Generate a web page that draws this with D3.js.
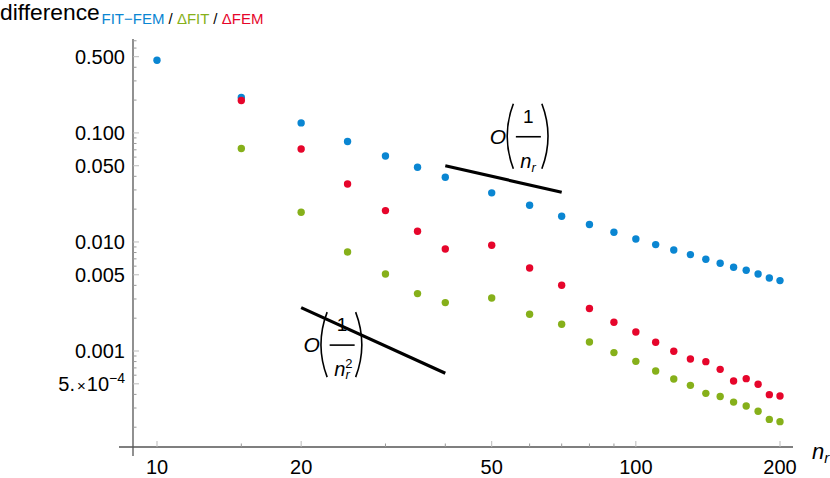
<!DOCTYPE html>
<html>
<head>
  <meta http-equiv="Content-Type" content="text/html;charset=utf-8">
  <title>difference vs n_r</title>
  <script src="https://d3js.org/d3.v7.min.js"></script>
  <style>
    html, body { margin: 0; padding: 0; background: #fff; }
    svg { display: block; font-family: "Liberation Sans", Arial, sans-serif; }
  </style>
</head>
<body>
<script type="text/javascript">

  // data
  var nFit = [10, 15, 20, 25, 30, 35, 40, 50, 60, 70, 80, 90, 100, 110, 120, 130, 140, 150, 160, 170, 180, 190, 200];
  var fitMinusFem = [0.4645, 0.2113, 0.1235, 0.0834, 0.0615, 0.0484, 0.0392, 0.0282, 0.0217, 0.0172, 0.01444, 0.01227,
    0.01065, 0.00946, 0.00844, 0.00766, 0.00694, 0.00638, 0.00586, 0.00550, 0.00509, 0.00467, 0.00442];

  var nDelta = [15, 20, 25, 30, 35, 40, 50, 60, 70, 80, 90, 100, 110, 120, 130, 140, 150, 160, 170, 180, 190, 200];
  var deltaFit = [0.0719, 0.01873, 0.00810, 0.00509, 0.00336, 0.00278, 0.00306, 0.00217, 0.001758, 0.001210, 0.000967,
    0.000804, 0.000655, 0.000553, 0.000484, 0.000409, 0.000382, 0.000340, 0.000313, 0.000280, 0.000236, 0.000225];
  var deltaFem = [0.1982, 0.0713, 0.0340, 0.0194, 0.01253, 0.00862, 0.00932, 0.00577, 0.00401, 0.00245, 0.001834,
    0.001494, 0.001202, 0.000994, 0.000844, 0.000799, 0.000679, 0.000531, 0.000558, 0.000495, 0.000398, 0.000387];

  // guide lines O(1/n) and O(1/n^2)
  var guide1 = [[40, 0.05], [70, 0.05 * 40 / 70]];
  var guide2 = [[20, 0.0025], [40, 0.0025 / 4]];

  var xMajor = [10, 20, 50, 100, 200];
  var xMinor = [15, 30, 40, 60, 70, 80, 90];
  var yMajor = [0.5, 0.1, 0.05, 0.01, 0.005, 0.001, 0.0005];
  var yLabels = ["0.500", "0.100", "0.050", "0.010", "0.005", "0.001", "5.×10-4"];
  var yMinor = [0.7, 0.6, 0.4, 0.3, 0.2, 0.09, 0.08, 0.07, 0.06, 0.04, 0.03, 0.02,
    0.009, 0.008, 0.007, 0.006, 0.004, 0.003, 0.002,
    0.0009, 0.0008, 0.0007, 0.0006, 0.0004, 0.0003, 0.0002];

  var blue = "#0a86d2", green = "#86b01a", red = "#e6052b";

  var svg = d3.select("body").append("svg")
    .attr("width", 830)
    .attr("height", 478);

  var x = d3.scaleLog().domain([10, 200]).range([157, 780]);
  var y = d3.scaleLog().domain([0.001, 0.5]).range([351, 56.7]);

  var axisY = 447, axisX = 133;

  // axes lines
  svg.append("line")
    .attr("x1", 119).attr("x2", 793).attr("y1", axisY).attr("y2", axisY)
    .style("stroke", "#555").style("stroke-width", 1.3);
  svg.append("line")
    .attr("x1", axisX).attr("x2", axisX).attr("y1", 39).attr("y2", 456)
    .style("stroke", "#555").style("stroke-width", 1.3);

  // x ticks (inward)
  svg.selectAll(".xmaj").data(xMajor).enter().append("line")
    .attr("x1", function (d) { return x(d); }).attr("x2", function (d) { return x(d); })
    .attr("y1", axisY).attr("y2", axisY - 6)
    .style("stroke", "#bbb").style("stroke-width", 1);
  svg.selectAll(".xmin").data(xMinor).enter().append("line")
    .attr("x1", function (d) { return x(d); }).attr("x2", function (d) { return x(d); })
    .attr("y1", axisY).attr("y2", axisY - 3.5)
    .style("stroke", "#999").style("stroke-width", 1);
  svg.selectAll(".xlab").data(xMajor).enter().append("text")
    .attr("x", function (d) { return x(d); })
    .attr("y", 474)
    .attr("text-anchor", "middle")
    .style("font-size", "20px")
    .text(function (d) { return d; });

  // y ticks (inward)
  svg.selectAll(".ymaj").data(yMajor).enter().append("line")
    .attr("x1", axisX).attr("x2", axisX + 6)
    .attr("y1", function (d) { return y(d); }).attr("y2", function (d) { return y(d); })
    .style("stroke", "#bbb").style("stroke-width", 1);
  svg.selectAll(".ymin").data(yMinor).enter().append("line")
    .attr("x1", axisX).attr("x2", axisX + 3.5)
    .attr("y1", function (d) { return y(d); }).attr("y2", function (d) { return y(d); })
    .style("stroke", "#999").style("stroke-width", 1);

  yMajor.forEach(function (v, i) {
    var lab = yLabels[i];
    var t = svg.append("text")
      .attr("x", 125)
      .attr("y", y(v) + 7.2)
      .attr("text-anchor", "end")
      .style("font-size", "20px");
    if (lab.indexOf("×") >= 0) {
      var parts = lab.split("×10");
      t.append("tspan").text(parts[0]);
      t.append("tspan").attr("dx", 2).style("font-size", "15px").text("×");
      t.append("tspan").attr("dx", 1).text("10");
      t.append("tspan").attr("dy", -8).style("font-size", "14px").text("\u2212" + parts[1].replace("-", ""));
    } else {
      t.text(lab);
    }
  });

  // axis labels
  var title = svg.append("text").attr("x", 0).attr("y", 20).style("font-size", "22.8px");
  title.append("tspan").text("difference");
  var sub = svg.append("text").attr("x", 101.5).attr("y", 24).style("font-size", "15px");
  sub.append("tspan").style("fill", blue).text("FIT\u2212FEM");
  sub.append("tspan").text(" / ");
  sub.append("tspan").style("fill", green).text("\u0394FIT");
  sub.append("tspan").text(" / ");
  sub.append("tspan").style("fill", red).text("\u0394FEM");

  var nl = svg.append("text").attr("x", 812).attr("y", 459).style("font-size", "22px").style("font-style", "italic");
  nl.append("tspan").text("n");
  nl.append("tspan").attr("dy", 4).style("font-size", "15px").text("r");

  // points
  function dots(xs, ys, color) {
    svg.append("g").selectAll("circle").data(xs).enter().append("circle")
      .attr("cx", function (d) { return x(d); })
      .attr("cy", function (d, i) { return y(ys[i]); })
      .attr("r", 3.7)
      .style("fill", color);
  }
  dots(nFit, fitMinusFem, blue);
  dots(nDelta, deltaFit, green);
  dots(nDelta, deltaFem, red);

  // big-O labels
  function paren(g, x0, top, bot, left) {
    var w = 6.5, mid = (top + bot) / 2;
    var p = left
      ? "M" + (x0 + w) + "," + top + " Q" + (x0 - w * 0.9) + "," + mid + " " + (x0 + w) + "," + bot
      : "M" + x0 + "," + top + " Q" + (x0 + w * 1.9) + "," + mid + " " + x0 + "," + bot;
    g.append("path").attr("d", p).style("fill", "none").style("stroke", "#000").style("stroke-width", 1.6);
  }

  function bigO(cx, cy, squared) {
    // cx, cy: centre of fraction bar
    var g = svg.append("g");
    var half = 12.5;
    g.append("text").attr("x", cx - half - 18).attr("y", cy + 7)
      .attr("text-anchor", "middle").style("font-size", "21px").style("font-style", "italic").text("O");
    paren(g, cx - half - 9, cy - 33, cy + 32, true);
    paren(g, cx + half + 1, cy - 33, cy + 32, false);
    g.append("line").attr("x1", cx - half).attr("x2", cx + half).attr("y1", cy).attr("y2", cy)
      .style("stroke", "#000").style("stroke-width", 1.6);
    g.append("text").attr("x", cx).attr("y", cy - 14)
      .attr("text-anchor", "middle").style("font-size", "19px").text("1");
    var d = g.append("text").attr("x", cx - 8).attr("y", cy + 31)
      .style("font-size", "20px").style("font-style", "italic");
    d.append("tspan").text("n");
    if (squared) {
      d.append("tspan").attr("dy", -8).attr("dx", 0).style("font-size", "13px").style("font-style", "normal").text("2");
      d.append("tspan").attr("dy", 11).attr("dx", -7).style("font-size", "13px").text("r");
    } else {
      d.append("tspan").attr("dy", 4).style("font-size", "13px").text("r");
    }
  }
  bigO(x(52) + 28.5, y(0.05) - 29, false);
  bigO(x(20) + 41, y(0.0025) + 37.5, true);

  // guide lines
  var line = d3.line()
    .x(function (d) { return x(d[0]); })
    .y(function (d) { return y(d[1]); });
  [guide1, guide2].forEach(function (gd) {
    svg.append("path").attr("d", line(gd))
      .style("fill", "none").style("stroke", "#000").style("stroke-width", 3.2);
  });

</script>
</body>
</html>
